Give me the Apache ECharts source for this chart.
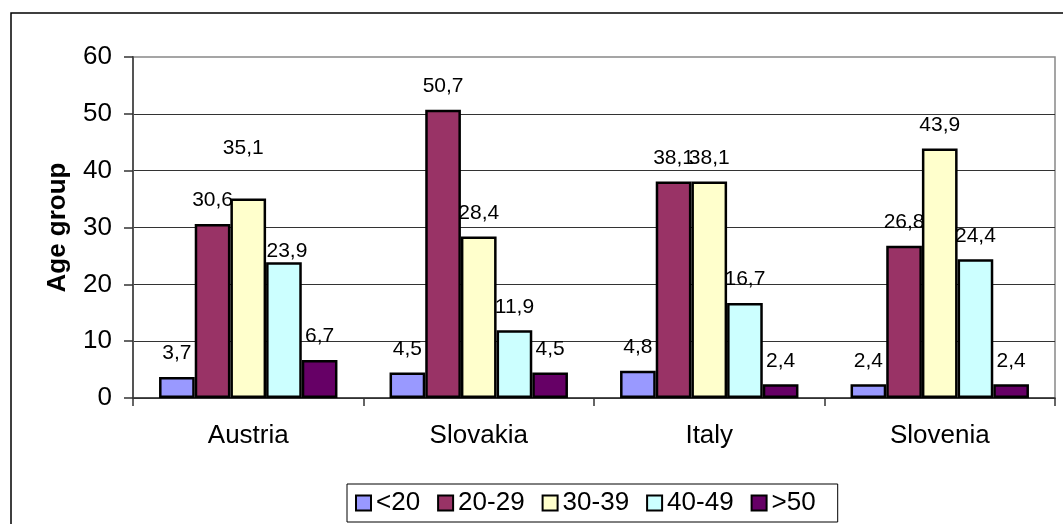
<!DOCTYPE html>
<html>
<head>
<meta charset="utf-8">
<script src="https://cdn.jsdelivr.net/npm/echarts@6/dist/echarts.min.js"></script>
<style>
html,body{margin:0;padding:0;background:#fff;}
#chart{width:1063px;height:524px;}
</style>
</head>
<body>
<div id="chart"></div>
<script>
const categories = ['Austria', 'Slovakia', 'Italy', 'Slovenia'];
const seriesNames = ['<20', '20-29', '30-39', '40-49', '>50'];
const under20 = [3.7, 4.5, 4.8, 2.4];
const age20to29 = [30.6, 50.7, 38.1, 26.8];
const age30to39 = [35.1, 28.4, 38.1, 43.9];
const age40to49 = [23.9, 11.9, 16.7, 24.4];
const over50 = [6.7, 4.5, 2.4, 2.4];
const yTicks = [0, 10, 20, 30, 40, 50, 60];

const seriesValues = [under20, age20to29, age30to39, age40to49, over50];
const colors = ['#9999FF', '#993366', '#FFFFCC', '#CCFFFF', '#660066'];
// label placement tweaks (series index, category index) -> offset
const labelOffsets = { '2-0': [-5, -27], '3-0': [3, 13] };

const FONT = 'Arial, "Liberation Sans", sans-serif';
const chart = echarts.init(document.getElementById('chart'), null, { renderer: 'canvas' });

const series = seriesValues.map((vals, si) => ({
  name: seriesNames[si],
  type: 'bar',
  barGap: '0%',
  barCategoryGap: '22.6%',
  itemStyle: { color: colors[si], borderColor: '#000', borderWidth: 2.5 },
  label: {
    show: true,
    position: 'top',
    distance: 13,
    color: '#000',
    fontFamily: FONT,
    fontSize: 21,
    formatter: p => p.value.toFixed(1).replace('.', ',')
  },
  data: vals.map((v, ci) => {
    const off = labelOffsets[si + '-' + ci];
    return off ? { value: v, label: { offset: off } } : v;
  })
}));

chart.setOption({
  animation: false,
  backgroundColor: '#fff',
  textStyle: { fontFamily: FONT },
  graphic: [{
    type: 'rect',
    shape: { x: 11, y: 13, width: 1060, height: 530 },
    style: { fill: 'none', stroke: '#000', lineWidth: 1.5 },
    z: -1
  }],
  grid: {
    left: 133, right: 8, top: 57, bottom: 126,
    show: true, borderColor: '#888', borderWidth: 1.5, backgroundColor: '#fff'
  },
  legend: {
    bottom: 2, left: 347,
    orient: 'horizontal',
    padding: [6, 22, 6, 8],
    itemWidth: 15, itemHeight: 15, itemGap: 17,
    icon: 'rect',
    borderColor: '#000', borderWidth: 1,
    backgroundColor: '#fff',
    itemStyle: { borderColor: '#000', borderWidth: 2 },
    textStyle: { fontFamily: FONT, fontSize: 26, color: '#000', padding: [0, 0, 0, 0] },
    data: seriesNames
  },
  xAxis: {
    type: 'category',
    data: categories,
    axisLine: { lineStyle: { color: '#333', width: 1.5 } },
    axisTick: { show: true, length: 8, lineStyle: { color: '#333', width: 1.5 } },
    axisLabel: { fontFamily: FONT, fontSize: 26, color: '#000', margin: 25 }
  },
  yAxis: {
    type: 'value',
    min: 0, max: 60, interval: 10,
    name: 'Age group',
    nameLocation: 'middle',
    nameGap: 62,
    nameRotate: 90,
    nameTextStyle: { fontFamily: FONT, fontSize: 26, fontWeight: 'bold', color: '#000' },
    axisLine: { show: true, lineStyle: { color: '#555', width: 2 } },
    axisTick: { show: true, length: 9, lineStyle: { color: '#333', width: 1.5 } },
    axisLabel: {
      fontFamily: FONT, fontSize: 26, color: '#000', margin: 21,
      formatter: v => (yTicks.indexOf(v) >= 0 ? String(v) : '')
    },
    splitLine: { show: true, showMaxLine: false, lineStyle: { color: '#333', width: 1 } }
  },
  series: series
});
</script>
</body>
</html>
